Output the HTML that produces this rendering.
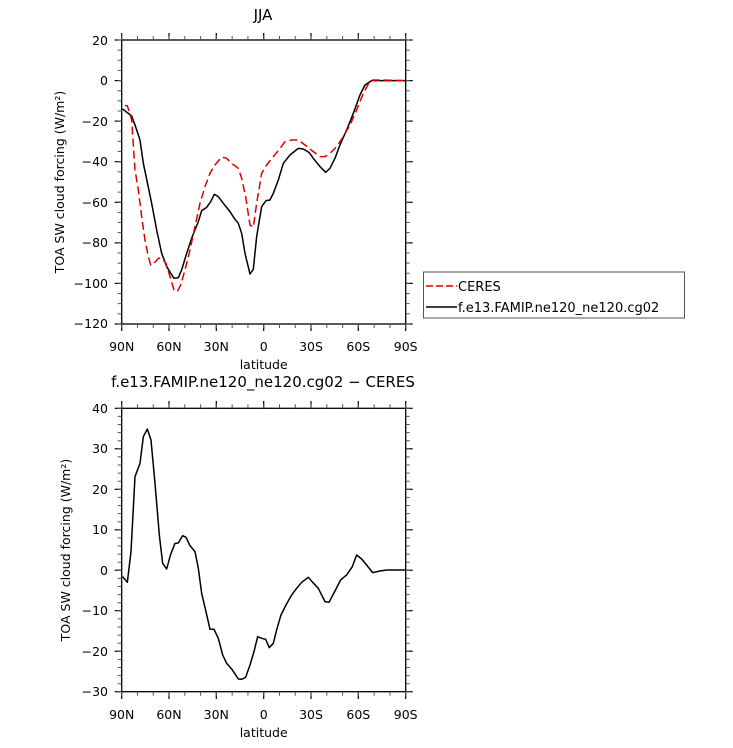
<!DOCTYPE html>
<html><head><meta charset="utf-8"><style>
body{margin:0;background:#fff}
text{font-family:"DejaVu Sans","Liberation Sans",sans-serif;fill:#000}
</style></head><body>
<svg width="733" height="743" viewBox="0 0 733 743" xmlns="http://www.w3.org/2000/svg">
<text x="263" y="20" font-size="15" text-anchor="middle">JJA</text>
<!-- top plot -->
<rect x="121.7" y="40" width="284" height="284" fill="none" stroke="#000" stroke-width="1.3"/>
<g stroke="#000" stroke-width="1.2">
<line x1="121.7" y1="40" x2="121.7" y2="33"/><line x1="169" y1="40" x2="169" y2="33"/><line x1="216.3" y1="40" x2="216.3" y2="33"/><line x1="263.7" y1="40" x2="263.7" y2="33"/><line x1="311" y1="40" x2="311" y2="33"/><line x1="358.3" y1="40" x2="358.3" y2="33"/><line x1="405.7" y1="40" x2="405.7" y2="33"/>
<line x1="121.7" y1="324" x2="121.7" y2="331"/><line x1="169" y1="324" x2="169" y2="331"/><line x1="216.3" y1="324" x2="216.3" y2="331"/><line x1="263.7" y1="324" x2="263.7" y2="331"/><line x1="311" y1="324" x2="311" y2="331"/><line x1="358.3" y1="324" x2="358.3" y2="331"/><line x1="405.7" y1="324" x2="405.7" y2="331"/>
<line x1="114.7" y1="40" x2="121.7" y2="40"/><line x1="114.7" y1="80.6" x2="121.7" y2="80.6"/><line x1="114.7" y1="121.1" x2="121.7" y2="121.1"/><line x1="114.7" y1="161.7" x2="121.7" y2="161.7"/><line x1="114.7" y1="202.3" x2="121.7" y2="202.3"/><line x1="114.7" y1="242.9" x2="121.7" y2="242.9"/><line x1="114.7" y1="283.4" x2="121.7" y2="283.4"/><line x1="114.7" y1="324" x2="121.7" y2="324"/>
<line x1="405.7" y1="40" x2="412.7" y2="40"/><line x1="405.7" y1="80.6" x2="412.7" y2="80.6"/><line x1="405.7" y1="121.1" x2="412.7" y2="121.1"/><line x1="405.7" y1="161.7" x2="412.7" y2="161.7"/><line x1="405.7" y1="202.3" x2="412.7" y2="202.3"/><line x1="405.7" y1="242.9" x2="412.7" y2="242.9"/><line x1="405.7" y1="283.4" x2="412.7" y2="283.4"/><line x1="405.7" y1="324" x2="412.7" y2="324"/>
</g>
<g stroke="#555" stroke-width="4">
<line x1="119.7" y1="39.5" x2="119.7" y2="325" stroke-dasharray="1,9.14"/>
<line x1="407.7" y1="39.5" x2="407.7" y2="325" stroke-dasharray="1,9.14"/>
<line x1="121.2" y1="326" x2="407" y2="326" stroke-dasharray="1,14.78"/>
<line x1="121.2" y1="38" x2="407" y2="38" stroke-dasharray="1,14.78"/>
</g>
<g font-size="12.5" text-anchor="end">
<text x="108" y="45">20</text><text x="108" y="85">0</text><text x="108" y="126">−20</text><text x="108" y="166">−40</text><text x="108" y="207">−60</text><text x="108" y="247">−80</text><text x="108" y="288">−100</text><text x="108" y="328">−120</text>
</g>
<g font-size="12.5" text-anchor="middle">
<text x="121.7" y="351">90N</text><text x="169" y="351">60N</text><text x="216.3" y="351">30N</text><text x="263.7" y="351">0</text><text x="311" y="351">30S</text><text x="358.3" y="351">60S</text><text x="405.7" y="351">90S</text>
<text x="263.7" y="369">latitude</text>
</g>
<text transform="translate(64,182) rotate(-90)" font-size="12.5" text-anchor="middle">TOA SW cloud forcing (W/m²)</text>
<g transform="translate(100,30) scale(0.3333)" fill="none" stroke-width="4.5" stroke-linejoin="round">
<polyline stroke="#000" points="68,237 95,258 105,285 120,330 130,400 155,520 170,600 185,670 200,710 222,745 235,743 245,720 260,670 275,625 295,575 305,542 320,532 332,515 343,493 355,500 370,520 390,545 405,568 415,580 425,610 435,670 450,732 460,718 470,620 485,530 498,512 510,510 520,490 535,450 550,400 570,375 595,355 610,357 628,368 640,385 660,410 677,427 690,415 705,385 720,345 740,300 760,250 780,195 795,165 815,152 830,152 917,152"/>
<polyline stroke="#e00000" stroke-dasharray="24,12" points="75,227 82,227 95,270 105,420 115,480 125,560 135,630 145,680 152,705 162,700 175,685 185,685 198,700 210,740 222,780 232,785 242,765 255,720 270,660 285,590 300,520 315,470 330,430 345,405 365,381 380,385 395,400 415,415 425,445 437,500 450,585 460,592 470,520 485,430 500,405 520,380 540,355 555,335 575,330 595,330 615,345 640,365 660,380 675,380 690,370 710,350 730,320 750,285 770,240 790,190 805,162 818,150 840,150 917,152"/>
</g>
<!-- legend -->
<rect x="423.5" y="272" width="261" height="46" fill="#fff" stroke="#555" stroke-width="1"/>
<line x1="426" y1="286" x2="457" y2="286" stroke="#e00000" stroke-width="1.5" stroke-dasharray="7,3"/>
<line x1="426" y1="307" x2="457" y2="307" stroke="#000" stroke-width="1.5"/>
<text x="458" y="291" font-size="13">CERES</text>
<text x="458" y="312" font-size="13">f.e13.FAMIP.ne120_ne120.cg02</text>
<!-- bottom plot -->
<text x="263" y="387" font-size="15" text-anchor="middle">f.e13.FAMIP.ne120_ne120.cg02 − CERES</text>
<rect x="121.7" y="408.3" width="284" height="283.4" fill="none" stroke="#000" stroke-width="1.3"/>
<g stroke="#000" stroke-width="1.2">
<line x1="121.7" y1="408.3" x2="121.7" y2="401"/><line x1="169" y1="408.3" x2="169" y2="401"/><line x1="216.3" y1="408.3" x2="216.3" y2="401"/><line x1="263.7" y1="408.3" x2="263.7" y2="401"/><line x1="311" y1="408.3" x2="311" y2="401"/><line x1="358.3" y1="408.3" x2="358.3" y2="401"/><line x1="405.7" y1="408.3" x2="405.7" y2="401"/>
<line x1="121.7" y1="691.7" x2="121.7" y2="699"/><line x1="169" y1="691.7" x2="169" y2="699"/><line x1="216.3" y1="691.7" x2="216.3" y2="699"/><line x1="263.7" y1="691.7" x2="263.7" y2="699"/><line x1="311" y1="691.7" x2="311" y2="699"/><line x1="358.3" y1="691.7" x2="358.3" y2="699"/><line x1="405.7" y1="691.7" x2="405.7" y2="699"/>
<line x1="114.7" y1="408.3" x2="121.7" y2="408.3"/><line x1="114.7" y1="448.8" x2="121.7" y2="448.8"/><line x1="114.7" y1="489.3" x2="121.7" y2="489.3"/><line x1="114.7" y1="529.8" x2="121.7" y2="529.8"/><line x1="114.7" y1="570.2" x2="121.7" y2="570.2"/><line x1="114.7" y1="610.7" x2="121.7" y2="610.7"/><line x1="114.7" y1="651.2" x2="121.7" y2="651.2"/><line x1="114.7" y1="691.7" x2="121.7" y2="691.7"/>
<line x1="405.7" y1="408.3" x2="412.7" y2="408.3"/><line x1="405.7" y1="448.8" x2="412.7" y2="448.8"/><line x1="405.7" y1="489.3" x2="412.7" y2="489.3"/><line x1="405.7" y1="529.8" x2="412.7" y2="529.8"/><line x1="405.7" y1="570.2" x2="412.7" y2="570.2"/><line x1="405.7" y1="610.7" x2="412.7" y2="610.7"/><line x1="405.7" y1="651.2" x2="412.7" y2="651.2"/><line x1="405.7" y1="691.7" x2="412.7" y2="691.7"/>
</g>
<g stroke="#555" stroke-width="4">
<line x1="119.7" y1="407.8" x2="119.7" y2="693" stroke-dasharray="1,7.1"/>
<line x1="407.7" y1="407.8" x2="407.7" y2="693" stroke-dasharray="1,7.1"/>
<line x1="121.2" y1="693.7" x2="407" y2="693.7" stroke-dasharray="1,14.78"/>
<line x1="121.2" y1="406.3" x2="407" y2="406.3" stroke-dasharray="1,14.78"/>
</g>
<g font-size="12.5" text-anchor="end">
<text x="108" y="413">40</text><text x="108" y="453">30</text><text x="108" y="494">20</text><text x="108" y="534">10</text><text x="108" y="575">0</text><text x="108" y="615">−10</text><text x="108" y="656">−20</text><text x="108" y="696">−30</text>
</g>
<g font-size="12.5" text-anchor="middle">
<text x="121.7" y="719">90N</text><text x="169" y="719">60N</text><text x="216.3" y="719">30N</text><text x="263.7" y="719">0</text><text x="311" y="719">30S</text><text x="358.3" y="719">60S</text><text x="405.7" y="719">90S</text>
<text x="263.7" y="737">latitude</text>
</g>
<text transform="translate(70,550) rotate(-90)" font-size="12.5" text-anchor="middle">TOA SW cloud forcing (W/m²)</text>
<g transform="translate(100,395) scale(0.3333)" fill="none" stroke-width="4.5" stroke-linejoin="round">
<polyline stroke="#000" points="68,545 82,562 93,470 105,245 120,205 130,125 142,102 153,135 165,265 178,420 188,505 200,522 212,478 225,445 235,444 248,422 258,427 270,452 285,470 295,520 305,595 318,650 330,703 342,703 355,730 368,780 380,805 395,822 415,852 425,853 437,847 450,810 462,770 473,725 485,730 497,733 508,758 520,745 530,705 543,660 558,630 575,600 590,580 605,562 625,547 638,562 655,580 675,620 687,622 705,588 722,555 740,540 757,515 770,480 785,492 800,510 818,533 840,528 860,525 917,525"/>
</g>
</svg>
</body></html>
